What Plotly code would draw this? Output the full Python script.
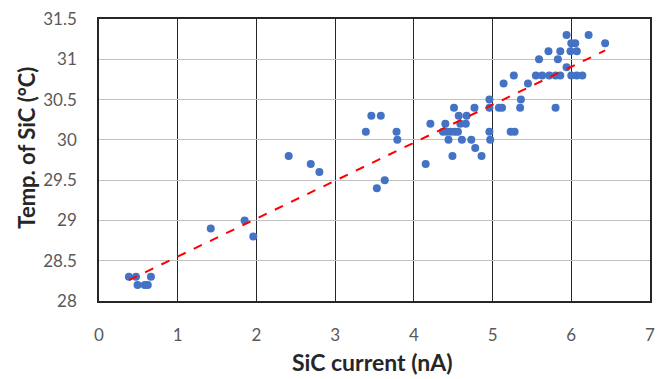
import numpy as np
import plotly.graph_objects as go

current_nA = [0.38, 0.47, 0.66, 0.49, 0.58, 0.62, 1.42, 1.85, 1.96, 2.41, 2.69, 2.80,
              3.39, 3.46, 3.58, 3.78, 3.79, 3.53, 3.63, 4.15, 4.21,
              4.40, 4.37, 4.42, 4.47, 4.52, 4.56, 4.44, 4.49, 4.51, 4.57, 4.67, 4.59, 4.66,
              4.61, 4.73, 4.78, 4.86, 4.77, 4.96, 4.96, 4.96, 4.97, 5.08, 5.12, 5.14,
              5.23, 5.28, 5.27, 5.36, 5.35, 5.45, 5.55, 5.63, 5.72, 5.80, 5.86, 5.59,
              5.71, 5.80, 5.83, 5.86, 5.94, 5.94, 5.99, 6.07, 6.00, 6.05, 6.00, 6.07,
              6.14, 6.22, 6.43]
temp_C = [28.3, 28.3, 28.3, 28.2, 28.2, 28.2, 28.9, 29.0, 28.8, 29.8, 29.7, 29.6,
          30.1, 30.3, 30.3, 30.1, 30.0, 29.4, 29.5, 29.7, 30.2,
          30.2, 30.1, 30.1, 30.1, 30.1, 30.1, 30.0, 29.8, 30.4, 30.3, 30.3, 30.2, 30.2,
          30.0, 30.0, 29.9, 29.8, 30.4, 30.5, 30.4, 30.1, 30.0, 30.4, 30.4, 30.7,
          30.1, 30.1, 30.8, 30.5, 30.4, 30.7, 30.8, 30.8, 30.8, 30.8, 30.8, 31.0,
          31.1, 30.4, 31.0, 31.1, 31.3, 30.9, 31.1, 31.1, 31.2, 31.2, 30.8, 30.8,
          30.8, 31.3, 31.2]

x_ticks = [0, 1, 2, 3, 4, 5, 6, 7]
y_ticks = [28, 28.5, 29, 29.5, 30, 30.5, 31, 31.5]
y_tick_labels = ["28", "28.5", "29", "29.5", "30", "30.5", "31", "31.5"]
x_title = "SiC current (nA)"
y_title = "Temp. of SiC (°C)"

slope, intercept = np.polyfit(current_nA, temp_C, 1)
fit_x = [min(current_nA), max(current_nA)]
fit_y = [slope * v + intercept for v in fit_x]

fig = go.Figure()
fig.add_trace(go.Scatter(x=current_nA, y=temp_C, mode="markers",
                         marker=dict(color="#4472C4", size=8, line=dict(width=0)),
                         showlegend=False))
fig.add_trace(go.Scatter(x=fit_x, y=fit_y, mode="lines",
                         line=dict(color="#FF0000", width=2, dash="dash"),
                         showlegend=False))

font_family = "Lato, Open Sans, sans-serif"
fig.update_layout(
    width=658, height=379,
    margin=dict(l=99, r=3, t=19, b=78),
    plot_bgcolor="white", paper_bgcolor="white",
    font=dict(family=font_family),
    xaxis=dict(range=[0, 7], tickvals=x_ticks, showgrid=True, gridcolor="#262626",
               gridwidth=1.2, zeroline=False, showline=True, linecolor="#262626",
               linewidth=1.5, mirror=True, ticks="outside", ticklen=0,
               ticklabelstandoff=18, ticklabeloverflow="allow",
               tickfont=dict(size=17, color="#595959")),
    yaxis=dict(range=[28, 31.5], tickvals=y_ticks, ticktext=y_tick_labels, showgrid=True,
               gridcolor="#c0c0c0", gridwidth=1.2, zeroline=False, showline=True,
               linecolor="#262626", linewidth=1.5, mirror=True, ticks="outside", ticklen=0,
               ticklabelstandoff=17, ticklabeloverflow="allow",
               tickfont=dict(size=17, color="#595959")),
    annotations=[
        dict(text="<b>" + x_title + "</b>", xref="paper", yref="paper",
             x=(375 - 99) / 556, y=-(362 - 301) / 282, xanchor="center", yanchor="middle",
             showarrow=False, font=dict(size=23, color="#262626")),
        dict(text="<b>" + y_title + "</b>", xref="paper", yref="paper",
             x=-(99 - 25) / 556, y=(301 - 148) / 282, xanchor="center", yanchor="middle",
             textangle=-90, showarrow=False, font=dict(size=22, color="#262626")),
    ],
)

fig.write_html("out.html")
